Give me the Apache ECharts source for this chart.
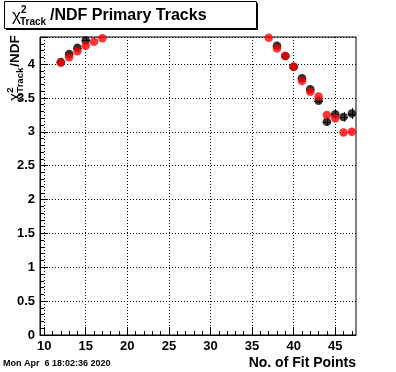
<!DOCTYPE html>
<html><head><meta charset="utf-8">
<script src="https://cdn.jsdelivr.net/npm/echarts@6/dist/echarts.min.js"></script>
<style>html,body{margin:0;padding:0;background:#fff}#c{width:396px;height:372px}</style>
</head><body><div id="c"></div>
<script>
// ---- data ----
const nFitPoints   = [12, 13, 14, 15, 16, 17, 37, 38, 39, 40, 41, 42, 43, 44, 45, 46, 47];
const blackValues  = [4.03, 4.15, 4.24, 4.35, null, null, null, 4.27, 4.12, 3.96, 3.79, 3.63, 3.46, 3.15, 3.26, 3.22, 3.27];
const blackErrors  = [0.03, 0.03, 0.03, 0.03, null, null, null, 0.03, 0.03, 0.03, 0.03, 0.03, 0.04, 0.06, 0.07, 0.07, 0.08];
const redValues    = [4.02, 4.10, 4.19, 4.27, 4.33, 4.38, 4.39, 4.23, 4.12, 3.96, 3.75, 3.59, 3.52, 3.25, 3.20, 2.99, 3.00];
const xMajorTicks  = [10, 15, 20, 25, 30, 35, 40, 45];
const xMinorTicks  = [10,11,12,13,14,15,16,17,18,19,20,21,22,23,24,25,26,27,28,29,30,31,32,33,34,35,36,37,38,39,40,41,42,43,44,45,46,47];
const xRange = [9.5, 47.5];
const yRange = [0, 4.4];
const titleMain = '/NDF Primary Tracks';
const xTitle = 'No. of Fit Points';
const stamp = 'Mon Apr  6 18:02:36 2020';

const FF = '"Liberation Sans", Arial, Helvetica, sans-serif';
const blackData = [], redData = [];
nFitPoints.forEach((n, i) => {
  if (blackValues[i] != null) blackData.push([n, blackValues[i], blackErrors[i]]);
  if (redValues[i] != null) redData.push([n, redValues[i]]);
});

const ctx = document.createElement('canvas').getContext('2d');
function tw(t, size, weight, fam) { ctx.font = (weight || 'bold') + ' ' + size + 'px ' + (fam || FF); return ctx.measureText(t).width; }
function txt(t, x, baseline, size, weight, align, fam) {
  return { type: 'text', x: x, y: baseline - 0.35 * size, silent: true,
    style: { text: t, fontSize: size, fontWeight: weight || 'bold', fontFamily: fam || FF, fill: '#000',
      textAlign: align || 'left', textVerticalAlign: 'middle' } };
}

// rotated y title built in local coords
function yTitleGroup() {
  const s = 13.5, ss = 9.5;
  const wChi = tw('\u03c7', 15, 'normal');
  const wTr = tw('Track', ss);
  const ch = [
    txt('\u03c7', 0, 0, 15, 'normal'),
    txt('2', wChi + 0.5, -6, ss),
    txt('Track', wChi + 0.5, 4, ss),
    txt('/NDF', wChi + wTr + 1.5, 0, s)
  ];
  return { type: 'group', x: 20, y: 101, rotation: Math.PI / 2, silent: true, children: ch };
}

const errorBars = (params, api) => {
  const x = api.value(0), y = api.value(1), e = api.value(2);
  const cs = params.coordSys;
  const clampY = v => Math.max(cs.y, Math.min(cs.y + cs.height, v));
  const c = api.coord([x, y]);
  const t = api.coord([x, y + e]), b = api.coord([x, y - e]);
  const l = api.coord([x - 0.5, y]), r = api.coord([x + 0.5, y]);
  const st = { stroke: '#000', lineWidth: 1 };
  return { type: 'group', children: [
    { type: 'line', shape: { x1: Math.round(c[0]) + 0.5, y1: clampY(t[1]), x2: Math.round(c[0]) + 0.5, y2: clampY(b[1]) }, style: st },
    { type: 'line', shape: { x1: l[0], y1: Math.round(c[1]) + 0.5, x2: r[0], y2: Math.round(c[1]) + 0.5 }, style: st }
  ] };
};

const chart = echarts.init(document.getElementById('c'), null, { renderer: 'canvas' });
chart.setOption({
  animation: false,
  backgroundColor: '#fff',
  grid: { left: 40, right: 40, top: 37, bottom: 37, show: true, borderColor: '#000', borderWidth: 1, backgroundColor: 'transparent' },
  xAxis: [
    { type: 'value', min: xRange[0], max: xRange[1], position: 'bottom',
      axisLine: { show: true, lineStyle: { color: '#000', width: 1 } },
      axisTick: { show: true, inside: true, length: 8, customValues: xMajorTicks, lineStyle: { color: '#000' } },
      axisLabel: { show: true, customValues: xMajorTicks, margin: 5, color: '#000', fontSize: 13, fontWeight: 'bold', fontFamily: FF },
      splitLine: { show: false } },
    { type: 'value', min: xRange[0], max: xRange[1], position: 'bottom', offset: 0,
      axisLine: { show: false },
      axisTick: { show: true, inside: true, length: 4, customValues: xMinorTicks, lineStyle: { color: '#000' } },
      axisLabel: { show: false }, splitLine: { show: false } }
  ],
  yAxis: [
    { type: 'value', min: yRange[0], max: yRange[1], interval: 0.5, position: 'left',
      axisLine: { show: true, lineStyle: { color: '#000', width: 1 } },
      axisTick: { show: true, inside: true, length: 8, lineStyle: { color: '#000' } },
      axisLabel: { margin: 5, color: '#000', fontSize: 13, fontWeight: 'bold', fontFamily: FF,
        formatter: v => (v > 4.01 ? '' : String(v)) },
      splitLine: { show: true, lineStyle: { color: '#000', width: 1, type: [1, 2] } } },
    { type: 'value', min: yRange[0], max: yRange[1], interval: 0.1, position: 'left', offset: 0,
      axisLine: { show: false },
      axisTick: { show: true, inside: true, length: 4, lineStyle: { color: '#000' } },
      axisLabel: { show: false }, splitLine: { show: false } }
  ],
  series: [
    { type: 'line', data: [], xAxisIndex: 0, yAxisIndex: 0, silent: true, z: 1,
      markLine: { silent: true, symbol: 'none', label: { show: false }, animation: false,
        lineStyle: { color: '#000', width: 1, type: [1, 2] },
        data: xMajorTicks.map(v => ({ xAxis: v })) } },
    { type: 'custom', xAxisIndex: 0, yAxisIndex: 0, data: blackData, renderItem: errorBars, z: 3, silent: true,
      encode: { x: 0, y: 1 } },
    { type: 'scatter', xAxisIndex: 0, yAxisIndex: 0, data: blackData.map(d => [d[0], d[1]]), symbol: 'circle', symbolSize: 8.5,
      itemStyle: { color: '#000' }, z: 4, silent: true },
    { type: 'scatter', xAxisIndex: 0, yAxisIndex: 0, data: redData, symbol: 'circle', symbolSize: 8.5,
      itemStyle: { color: '#ff0000' }, z: 5, silent: true }
  ],
  graphic: [
    { type: 'rect', shape: { x: 4.5, y: 1.5, width: 252, height: 27 }, style: { fill: '#fff', stroke: '#000', lineWidth: 1 }, silent: true, z: 10 },
    { type: 'line', shape: { x1: 257.5, y1: 3, x2: 257.5, y2: 29.5 }, style: { stroke: '#000', lineWidth: 1 }, silent: true, z: 10 },
    { type: 'line', shape: { x1: 6, y1: 29.5, x2: 258, y2: 29.5 }, style: { stroke: '#000', lineWidth: 1 }, silent: true, z: 10 },
    Object.assign(txt('\u03c7', 12, 22, 17, 'normal'), { z: 11 }),
    Object.assign(txt('2', 21, 14, 10), { z: 11 }),
    Object.assign(txt('Track', 20, 26, 10), { z: 11 }),
    Object.assign(txt(titleMain, 50, 21, 16), { z: 11 }),
    yTitleGroup(),
    txt(xTitle, 356, 368, 14, 'bold', 'right'),
    txt(stamp, 3, 367, 9, 'bold', 'left')
  ]
});
</script></body></html>
